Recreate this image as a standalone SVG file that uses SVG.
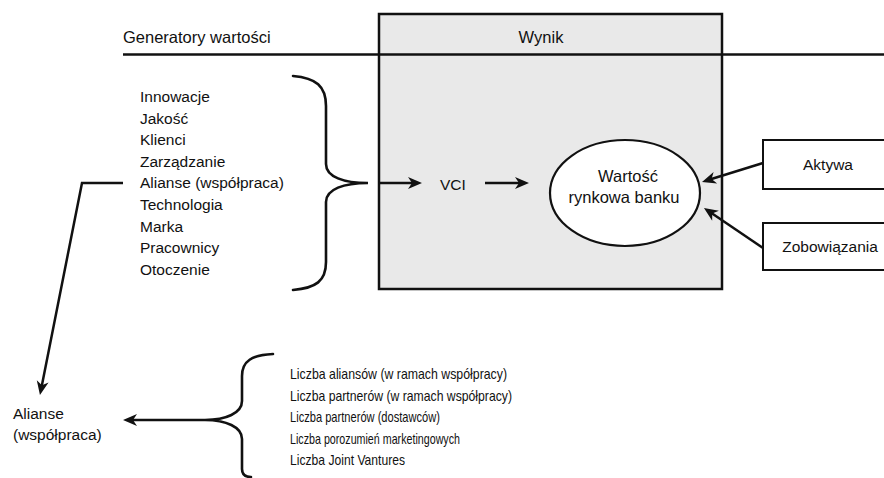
<svg xmlns="http://www.w3.org/2000/svg" width="884" height="478" viewBox="0 0 884 478">
  <style>
    text { font-family: "Liberation Sans", Arial, sans-serif; fill: #111; }
    .head { font-size: 16.5px; }
    .item { font-size: 15.5px; }
    .small { font-size: 15px; }
    .mid { text-anchor: middle; }
    .line { stroke: #111; stroke-width: 2.5; fill: none; }
    .brace { stroke: #111; stroke-width: 2.6; fill: none; stroke-linecap: round; }
    .arrow { stroke: #111; stroke-width: 2.5; fill: none; marker-end: url(#head); }
  </style>
  <defs>
    <marker id="head" markerUnits="userSpaceOnUse" markerWidth="15" markerHeight="13" refX="5" refY="6" orient="auto" overflow="visible">
      <path d="M0,0 L14,6 L0,12 L4,6 Z" fill="#111"/>
    </marker>
  </defs>

  <rect width="884" height="478" fill="#fff"/>

  <!-- result panel -->
  <g id="wynik">
    <rect x="379" y="14" width="343" height="275" fill="#e9e9e9" stroke="#111" stroke-width="2.5"/>
    <text class="head mid" x="541" y="43">Wynik</text>
  </g>

  <!-- header rule -->
  <line class="line" x1="123" y1="54.5" x2="884" y2="54.5" stroke-width="2.2"/>
  <g id="generatory-title">
    <text class="head" x="123" y="43">Generatory wartości</text>
  </g>

  <g id="generatory">
    <text class="item" x="140" y="102">Innowacje</text>
    <text class="item" x="140" y="123.6">Jakość</text>
    <text class="item" x="140" y="145.2">Klienci</text>
    <text class="item" x="140" y="166.8">Zarządzanie</text>
    <text class="item" x="140" y="188.4">Alianse (współpraca)</text>
    <text class="item" x="140" y="210">Technologia</text>
    <text class="item" x="140" y="231.6">Marka</text>
    <text class="item" x="140" y="253.2">Pracownicy</text>
    <text class="item" x="140" y="274.8">Otoczenie</text>
    <path class="brace" d="M293,76 C316,78 326,86 326,106 L326,164 C326,177 344,183 368,183 C344,183 326,189 326,202 L326,262 C326,281 316,288 293,290"/>
  </g>

  <g id="vci">
    <text class="item" x="440" y="190">VCI</text>
  </g>

  <g id="wartosc">
    <ellipse cx="625" cy="193" rx="75" ry="53" fill="#fff" stroke="#111" stroke-width="2.2"/>
    <text class="head mid" x="628" y="182">Wartość</text>
    <text class="head mid" x="624" y="203">rynkowa banku</text>
  </g>

  <g id="aktywa">
    <rect x="763" y="140" width="130" height="49" fill="#fff" stroke="#111" stroke-width="2"/>
    <text class="item mid" x="828" y="170">Aktywa</text>
  </g>

  <g id="zobowiazania">
    <rect x="763" y="223" width="130" height="47" fill="#fff" stroke="#111" stroke-width="2"/>
    <text class="item mid" x="830" y="252">Zobowiązania</text>
  </g>

  <g id="alianse">
    <text class="item" x="13" y="419">Alianse</text>
    <text class="item" x="13" y="440">(współpraca)</text>
  </g>

  <g id="mierniki">
    <text class="small" x="290" y="379" textLength="217" lengthAdjust="spacingAndGlyphs">Liczba aliansów (w ramach współpracy)</text>
    <text class="small" x="290" y="400.5" textLength="222" lengthAdjust="spacingAndGlyphs">Liczba partnerów (w ramach współpracy)</text>
    <text class="small" x="290" y="422" textLength="150" lengthAdjust="spacingAndGlyphs">Liczba partnerów (dostawców)</text>
    <text class="small" x="290" y="443.5" textLength="170" lengthAdjust="spacingAndGlyphs">Liczba porozumień marketingowych</text>
    <text class="small" x="290" y="465" textLength="115" lengthAdjust="spacingAndGlyphs">Liczba Joint Vantures</text>
    <path class="brace" d="M273,354 C252,355 242,361 242,376 L242,401 C242,413 226,420 205,420 C226,420 242,427 242,439 L242,469 C242,474 245,477 251,477"/>
  </g>

  <!-- connectors -->
  <g id="connectors">
    <line class="arrow" x1="379" y1="183" x2="413" y2="183"/>
    <line class="arrow" x1="485" y1="183" x2="520" y2="183"/>
    <line class="arrow" x1="763" y1="163" x2="710.6" y2="179.3"/>
    <line class="arrow" x1="763" y1="248" x2="711.4" y2="213"/>
    <polyline class="arrow" points="123,183 82,183 41.7,386.2"/>
    <line class="arrow" x1="205" y1="420" x2="132" y2="420"/>
  </g>
</svg>
